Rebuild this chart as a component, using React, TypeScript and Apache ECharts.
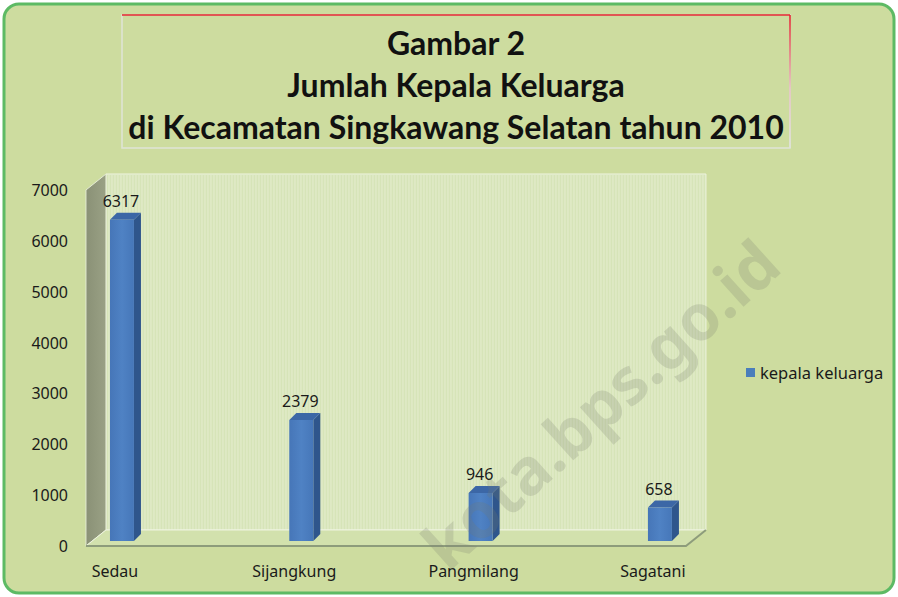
import React, { useEffect, useRef } from "react";
import * as echarts from "echarts";

const categories = ["Sedau", "Sijangkung", "Pangmilang", "Sagatani"];
const kepalaKeluarga = [6317, 2379, 946, 658];
const seriesName = "kepala keluarga";
const titleLines = [
  "Gambar 2",
  "Jumlah Kepala Keluarga",
  "di Kecamatan Singkawang Selatan tahun 2010",
];
const yMin = 0;
const yMax = 7000;
const yStep = 1000;
const watermark = "kota.bps.go.id";

export default function App() {
  const ref = useRef<HTMLDivElement>(null);

  useEffect(() => {
    document.body.style.margin = "0";
    const chart = echarts.init(ref.current as HTMLDivElement, null, { renderer: "svg" });
    const font = "'Noto Sans', sans-serif";
    const DX = 20;
    const DY = -16;

    const frameSeries = {
      type: "custom",
      silent: true,
      z: 1,
      data: [[0, 0]],
      renderItem: (params: any, api: any) => {
        const c0 = api.coord([0, yMin]);
        const c3 = api.coord([categories.length - 1, yMin]);
        const cT = api.coord([0, yMax]);
        const xL = c0[0] - 29;
        const xR = c3[0] + 33;
        const yB = c0[1];
        const yT = cT[1];
        const children: any[] = [];
        children.push({
          type: "rect",
          shape: { x: xL + DX, y: yT + DY, width: xR - xL, height: yB - yT },
          style: { fill: "#d6e4b8", stroke: "#eef4e0", lineWidth: 1 },
        });
        for (let x = xL + DX + 3; x < xR + DX - 1; x += 3) {
          children.push({
            type: "line",
            shape: { x1: x, y1: yT + DY + 1, x2: x, y2: yB + DY },
            style: { stroke: "rgba(240,246,225,0.55)", lineWidth: 1 },
          });
        }
        children.push({
          type: "polygon",
          shape: { points: [[xL, yT], [xL + DX, yT + DY], [xL + DX, yB + DY], [xL, yB]] },
          style: {
            fill: new echarts.graphic.LinearGradient(0, 0, 1, 0, [
              { offset: 0, color: "#8a9176" },
              { offset: 1, color: "#9aa185" },
            ]),
            stroke: "#e4ebd3",
            lineWidth: 1,
          },
        });
        children.push({
          type: "polygon",
          shape: { points: [[xL, yB], [xL + DX, yB + DY], [xR + DX, yB + DY], [xR, yB]] },
          style: { fill: "#d2e1ad", stroke: "#eef4e0", lineWidth: 1 },
        });
        children.push({
          type: "polyline",
          shape: { points: [[xL, yB], [xR, yB], [xR + DX, yB + DY]] },
          style: { stroke: "#8d9c7b", lineWidth: 2, fill: "none" },
        });
        return { type: "group", children };
      },
    };

    const barSeries = {
      type: "custom",
      name: seriesName,
      z: 5,
      itemStyle: { color: "#4a7ebb" },
      data: kepalaKeluarga.map((v, i) => [i, v]),
      renderItem: (params: any, api: any) => {
        const top = api.coord([api.value(0), api.value(1)]);
        const bot = api.coord([api.value(0), 0]);
        const cx = top[0] + 7;
        const hw = 12;
        const lift = 5;
        const d = 7;
        const x1 = cx - hw;
        const x2 = cx + hw;
        const yT = top[1] - lift;
        const yB = bot[1] - lift;
        return {
          type: "group",
          children: [
            {
              type: "polygon",
              shape: { points: [[x2, yT], [x2 + d, yT - d], [x2 + d, yB - d], [x2, yB]] },
              style: { fill: "#2f568c" },
            },
            {
              type: "polygon",
              shape: { points: [[x1, yT], [x1 + d, yT - d], [x2 + d, yT - d], [x2, yT]] },
              style: { fill: "#3c67a6" },
            },
            {
              type: "rect",
              shape: { x: x1, y: yT, width: x2 - x1, height: yB - yT },
              style: {
                fill: new echarts.graphic.LinearGradient(0, 0, 1, 0, [
                  { offset: 0, color: "#4676b8" },
                  { offset: 0.5, color: "#4f82c4" },
                  { offset: 1, color: "#4677b9" },
                ]),
              },
            },
            {
              type: "text",
              x: cx - 1,
              y: yT - 19,
              style: {
                text: String(api.value(1)),
                fontSize: 16,
                fontFamily: font,
                fill: "#1a1a1a",
                align: "center",
                verticalAlign: "middle",
              },
            },
          ],
        };
      },
    };

    const titleY = [42, 84, 126];

    const option: any = {
      animation: false,
      backgroundColor: "#ffffff",
      grid: { left: 25.3, width: 717.3, top: 190, bottom: 51 },
      xAxis: {
        type: "category",
        data: categories,
        axisLine: { show: false },
        axisTick: { show: false },
        splitLine: { show: false },
        axisLabel: { margin: 17, fontSize: 16, color: "#1a1a1a", fontFamily: font },
      },
      yAxis: {
        type: "value",
        min: yMin,
        max: yMax,
        interval: yStep,
        offset: -60.7,
        axisLine: { show: false },
        axisTick: { show: false },
        splitLine: { show: false },
        axisLabel: {
          margin: 18,
          fontSize: 16,
          color: "#1a1a1a",
          fontFamily: font,
          formatter: (v: number) => String(v),
        },
      },
      legend: {
        data: [{ name: seriesName, icon: "rect" }],
        left: 746,
        top: 364,
        padding: 0,
        itemWidth: 9,
        itemHeight: 9,
        textStyle: { fontSize: 16.5, color: "#1a1a1a", fontFamily: font },
      },
      graphic: [
        {
          type: "rect",
          z: -10,
          silent: true,
          shape: { x: 4, y: 4, width: 890, height: 589, r: 15 },
          style: { fill: "#cddc9f", stroke: "#5dba64", lineWidth: 3 },
        },
        {
          type: "rect",
          z: -5,
          silent: true,
          shape: { x: 122, y: 15, width: 668, height: 133 },
          style: { fill: "transparent", stroke: "#dfe3d8", lineWidth: 1.5 },
        },
        {
          type: "line",
          z: -4,
          silent: true,
          shape: { x1: 122, y1: 15, x2: 790, y2: 15 },
          style: { stroke: "#e3262b", lineWidth: 1.5 },
        },
        {
          type: "rect",
          z: -4,
          silent: true,
          shape: { x: 789.2, y: 15, width: 1.6, height: 133 },
          style: {
            fill: new echarts.graphic.LinearGradient(0, 0, 0, 1, [
              { offset: 0, color: "#e3262b" },
              { offset: 0.55, color: "#e6c2c2" },
              { offset: 1, color: "#dfe3d8" },
            ]),
          },
        },
        ...titleLines.map((t, i) => ({
          type: "text",
          z: 2,
          x: 456,
          y: titleY[i],
          style: {
            text: t,
            fontSize: 32,
            fontWeight: "bold",
            fontFamily: "Lato, 'Noto Sans', sans-serif",
            fill: "#111111",
            align: "center",
            verticalAlign: "middle",
          },
        })),
        {
          type: "text",
          z: 100,
          silent: true,
          x: 768,
          y: 252,
          rotation: (42 * Math.PI) / 180,
          style: {
            text: watermark,
            fontSize: 64,
            fontWeight: "bold",
            fontFamily: font,
            fill: "rgba(120,125,110,0.22)",
            align: "right",
            verticalAlign: "middle",
          },
        },
      ],
      series: [frameSeries, barSeries],
    };

    chart.setOption(option);
    return () => chart.dispose();
  }, []);

  return <div ref={ref} style={{ width: 898, height: 597 }} />;
}
